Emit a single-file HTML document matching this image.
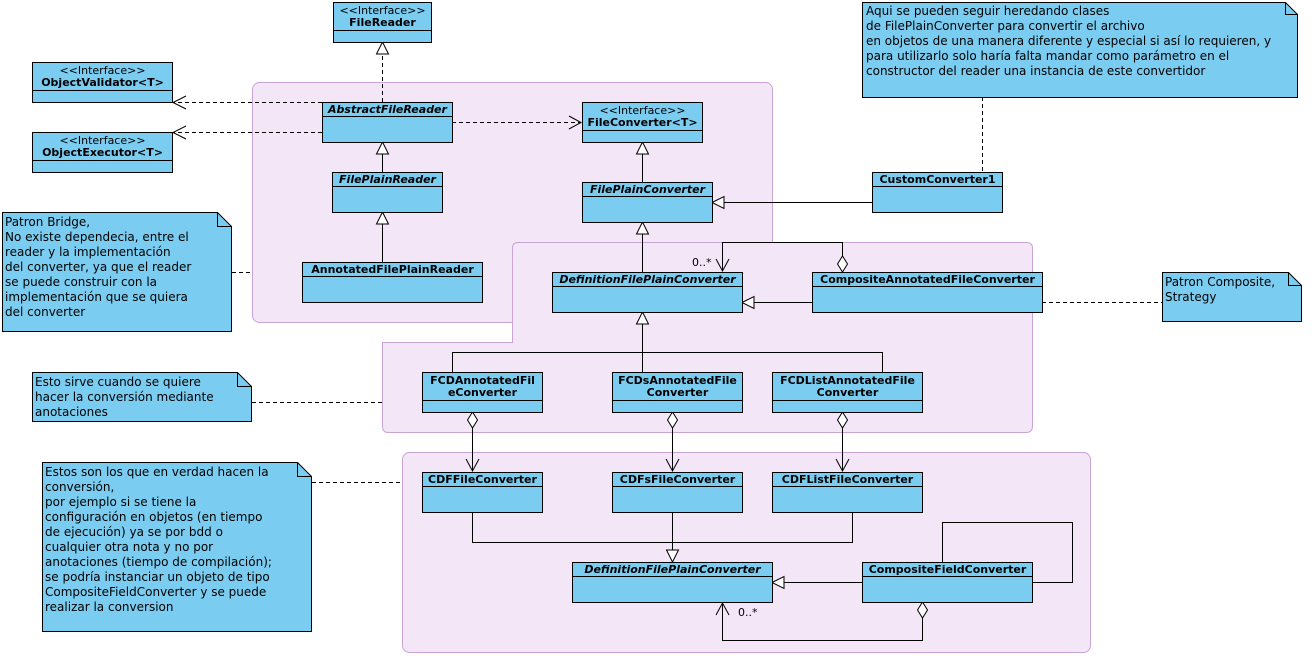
<!DOCTYPE html>
<html><head><meta charset="utf-8"><style>
html,body{margin:0;padding:0;background:#fff;}
svg{display:block;font-family:"DejaVu Sans","Liberation Sans",sans-serif;}
.c{fill:#7acdf1;stroke:#000;stroke-width:1;}
.n{font-size:11px;font-weight:bold;text-anchor:middle;}
.i{font-style:italic;}
.s{font-size:11px;text-anchor:middle;}
.pk{fill:#f3e6f6;stroke:#c9a3d3;stroke-width:1;}
.l{stroke:#000;fill:none;stroke-width:1;}
.d{stroke:#000;fill:none;stroke-dasharray:4,3;}
.t{fill:#fff;stroke:#000;}
.nt{font-size:12px;}
</style></head><body>
<svg width="1316" height="656" viewBox="0 0 1316 656" xmlns="http://www.w3.org/2000/svg">
<!-- packages -->
<rect class="pk" x="252.5" y="82.5" width="520" height="240" rx="7"/>
<path class="pk" d="M512.5,248 Q512.5,242.5 518,242.5 L1026,242.5 Q1032.5,242.5 1032.5,248 L1032.5,426 Q1032.5,432.5 1026,432.5 L388,432.5 Q382.5,432.5 382.5,426 L382.5,342.5 L512.5,342.5 Z"/>
<rect class="pk" x="402.5" y="452.5" width="688" height="200" rx="7"/>

<!-- connectors -->
<path class="d" d="M382.5,102 V44"/><path class="t" d="M382.5,42 l-6,12 h12 z"/>
<path class="d" d="M322,102.5 H174"/><path class="l" d="M186,96 L173,102.5 L186,109"/>
<path class="d" d="M322,132.5 H174"/><path class="l" d="M186,126 L173,132.5 L186,139"/>
<path class="d" d="M452,122.5 H580"/><path class="l" d="M569,116 L581,122.5 L569,129"/>
<path class="l" d="M382.5,172 V154"/><path class="t" d="M382.5,142 l-6,12 h12 z"/>
<path class="l" d="M382.5,262 V224"/><path class="t" d="M382.5,212 l-6,12 h12 z"/>
<path class="l" d="M642.5,182 V154"/><path class="t" d="M642.5,142 l-6,12 h12 z"/>
<path class="l" d="M872,202.5 H724"/><path class="t" d="M712,202.5 l12,-6 v12 z"/>
<path class="l" d="M642.5,272 V234"/><path class="t" d="M642.5,222 l-6,12 h12 z"/>
<path class="l" d="M812,302.5 H754"/><path class="t" d="M742,302.5 l12,-6 v12 z"/>
<path class="l" d="M842.5,256 V242.5 H722.5 V271"/><path class="l" d="M716,259 L722.5,271 L729,259"/>
<path class="t" d="M842.5,272 l-5,-8 l5,-8 l5,8 z"/>
<text x="692" y="266" font-size="11">0..*</text>
<path class="d" d="M1042,302.5 H1162"/>
<path class="l" d="M452.5,372 V352.5 H882.5 V372 M642.5,352.5 V372 M642.5,352.5 V324"/><path class="t" d="M642.5,312 l-6,12 h12 z"/>
<path class="l" d="M472.5,428 V471 M672.5,428 V471 M842.5,428 V471"/>
<path class="t" d="M472.5,412 l-5,8 l5,8 l5,-8 z"/><path class="t" d="M672.5,412 l-5,8 l5,8 l5,-8 z"/><path class="t" d="M842.5,412 l-5,8 l5,8 l5,-8 z"/>
<path class="l" d="M466,459 L472.5,471 L479,459 M666,459 L672.5,471 L679,459 M836,459 L842.5,471 L849,459"/>
<path class="l" d="M472.5,512 V542.5 H852.5 V512 M672.5,512 V550"/><path class="t" d="M672.5,562 l-6,-12 h12 z"/>
<path class="l" d="M862,582.5 H784"/><path class="t" d="M772,582.5 l12,-6 v12 z"/>
<path class="l" d="M942.5,562 V522.5 H1072.5 V582.5 H1032"/>
<path class="l" d="M922.5,618 V640.5 H722.5 V603"/><path class="l" d="M716,615 L722.5,603 L729,615"/>
<path class="t" d="M922.5,602 l-5,8 l5,8 l5,-8 z"/>
<text x="738" y="616" font-size="11">0..*</text>
<path class="d" d="M232,272.5 H252"/>
<path class="d" d="M252,402.5 H382"/>
<path class="d" d="M312,482.5 H402"/>
<path class="d" d="M982.5,97 V172"/>

<!-- classes -->
<g>
<rect class="c" x="333.5" y="2.5" width="98" height="40"/><line class="l" x1="333.5" y1="30.5" x2="431.5" y2="30.5"/>
<text class="s" x="382.5" y="14">&lt;&lt;Interface&gt;&gt;</text><text class="n" x="382.5" y="26">FileReader</text>

<rect class="c" x="32.5" y="62.5" width="140" height="40"/><line class="l" x1="32.5" y1="90.5" x2="172.5" y2="90.5"/>
<text class="s" x="102.5" y="74">&lt;&lt;Interface&gt;&gt;</text><text class="n" x="102.5" y="86">ObjectValidator&lt;T&gt;</text>

<rect class="c" x="32.5" y="132.5" width="140" height="40"/><line class="l" x1="32.5" y1="160.5" x2="172.5" y2="160.5"/>
<text class="s" x="102.5" y="144">&lt;&lt;Interface&gt;&gt;</text><text class="n" x="102.5" y="156">ObjectExecutor&lt;T&gt;</text>

<rect class="c" x="322.5" y="102.5" width="130" height="40"/><line class="l" x1="322.5" y1="116.5" x2="452.5" y2="116.5"/>
<text class="n i" x="387.5" y="113">AbstractFileReader</text>

<rect class="c" x="332.5" y="172.5" width="110" height="40"/><line class="l" x1="332.5" y1="186.5" x2="442.5" y2="186.5"/>
<text class="n i" x="387.5" y="183">FilePlainReader</text>

<rect class="c" x="302.5" y="262.5" width="180" height="40"/><line class="l" x1="302.5" y1="276.5" x2="482.5" y2="276.5"/>
<text class="n" x="392.5" y="273">AnnotatedFilePlainReader</text>

<rect class="c" x="582.5" y="102.5" width="120" height="40"/><line class="l" x1="582.5" y1="130.5" x2="702.5" y2="130.5"/>
<text class="s" x="642.5" y="114">&lt;&lt;Interface&gt;&gt;</text><text class="n" x="642.5" y="126">FileConverter&lt;T&gt;</text>

<rect class="c" x="582.5" y="182.5" width="130" height="40"/><line class="l" x1="582.5" y1="196.5" x2="712.5" y2="196.5"/>
<text class="n i" x="647.5" y="193">FilePlainConverter</text>

<rect class="c" x="872.5" y="172.5" width="130" height="40"/><line class="l" x1="872.5" y1="186.5" x2="1002.5" y2="186.5"/>
<text class="n" x="937.5" y="183">CustomConverter1</text>

<rect class="c" x="552.5" y="272.5" width="190" height="40"/><line class="l" x1="552.5" y1="286.5" x2="742.5" y2="286.5"/>
<text class="n i" x="647.5" y="283">DefinitionFilePlainConverter</text>

<rect class="c" x="812.5" y="272.5" width="230" height="40"/><line class="l" x1="812.5" y1="286.5" x2="1042.5" y2="286.5"/>
<text class="n" x="927.5" y="283">CompositeAnnotatedFileConverter</text>

<rect class="c" x="422.5" y="372.5" width="120" height="40"/><line class="l" x1="422.5" y1="400.5" x2="542.5" y2="400.5"/>
<text class="n" x="482.5" y="384">FCDAnnotatedFil</text><text class="n" x="482.5" y="396">eConverter</text>

<rect class="c" x="612.5" y="372.5" width="130" height="40"/><line class="l" x1="612.5" y1="400.5" x2="742.5" y2="400.5"/>
<text class="n" x="677.5" y="384">FCDsAnnotatedFile</text><text class="n" x="677.5" y="396">Converter</text>

<rect class="c" x="772.5" y="372.5" width="150" height="40"/><line class="l" x1="772.5" y1="400.5" x2="922.5" y2="400.5"/>
<text class="n" x="847.5" y="384">FCDListAnnotatedFile</text><text class="n" x="847.5" y="396">Converter</text>

<rect class="c" x="422.5" y="472.5" width="120" height="40"/><line class="l" x1="422.5" y1="486.5" x2="542.5" y2="486.5"/>
<text class="n" x="482.5" y="483">CDFFileConverter</text>

<rect class="c" x="612.5" y="472.5" width="130" height="40"/><line class="l" x1="612.5" y1="486.5" x2="742.5" y2="486.5"/>
<text class="n" x="677.5" y="483">CDFsFileConverter</text>

<rect class="c" x="772.5" y="472.5" width="150" height="40"/><line class="l" x1="772.5" y1="486.5" x2="922.5" y2="486.5"/>
<text class="n" x="847.5" y="483">CDFListFileConverter</text>

<rect class="c" x="572.5" y="562.5" width="200" height="40"/><line class="l" x1="572.5" y1="576.5" x2="772.5" y2="576.5"/>
<text class="n i" x="672.5" y="573">DefinitionFilePlainConverter</text>

<rect class="c" x="862.5" y="562.5" width="170" height="40"/><line class="l" x1="862.5" y1="576.5" x2="1032.5" y2="576.5"/>
<text class="n" x="947.5" y="573">CompositeFieldConverter</text>
</g>

<!-- notes -->
<path class="c" d="M862.5,2.5 H1285.5 L1297.5,14.5 V97.5 H862.5 Z"/><path class="l" d="M1285.5,2.5 V14.5 H1297.5"/>
<text class="nt" x="866" y="15">Aqui se pueden seguir heredando clases</text>
<text class="nt" x="866" y="30">de FilePlainConverter para convertir el archivo</text>
<text class="nt" x="866" y="45">en objetos de una manera diferente y especial si así lo requieren, y</text>
<text class="nt" x="866" y="60">para utilizarlo solo haría falta mandar como parámetro en el</text>
<text class="nt" x="866" y="75">constructor del reader una instancia de este convertidor</text>

<path class="c" d="M2.5,212.5 H217.5 L231.5,226.5 V331.5 H2.5 Z"/><path class="l" d="M217.5,212.5 V226.5 H231.5"/>
<text class="nt" x="5" y="226">Patron Bridge,</text>
<text class="nt" x="5" y="241">No existe dependecia, entre el</text>
<text class="nt" x="5" y="256">reader y la implementación</text>
<text class="nt" x="5" y="271">del converter, ya que el reader</text>
<text class="nt" x="5" y="286">se puede construir con la</text>
<text class="nt" x="5" y="301">implementación que se quiera</text>
<text class="nt" x="5" y="316">del converter</text>

<path class="c" d="M1162.5,272.5 H1288.5 L1301.5,285.5 V321.5 H1162.5 Z"/><path class="l" d="M1288.5,272.5 V285.5 H1301.5"/>
<text class="nt" x="1165" y="286">Patron Composite,</text>
<text class="nt" x="1165" y="301">Strategy</text>

<path class="c" d="M32.5,372.5 H237.5 L251.5,386.5 V421.5 H32.5 Z"/><path class="l" d="M237.5,372.5 V386.5 H251.5"/>
<text class="nt" x="35" y="386">Esto sirve cuando se quiere</text>
<text class="nt" x="35" y="401">hacer la conversión mediante</text>
<text class="nt" x="35" y="416">anotaciones</text>

<path class="c" d="M42.5,462.5 H297.5 L311.5,476.5 V631.5 H42.5 Z"/><path class="l" d="M297.5,462.5 V476.5 H311.5"/>
<text class="nt" x="45" y="476">Estos son los que en verdad hacen la</text>
<text class="nt" x="45" y="491">conversión,</text>
<text class="nt" x="45" y="506">por ejemplo si se tiene la</text>
<text class="nt" x="45" y="521">configuración en objetos (en tiempo</text>
<text class="nt" x="45" y="536">de ejecución) ya se por bdd o</text>
<text class="nt" x="45" y="551">cualquier otra nota y no por</text>
<text class="nt" x="45" y="566">anotaciones (tiempo de compilación);</text>
<text class="nt" x="45" y="581">se podría instanciar un objeto de tipo</text>
<text class="nt" x="45" y="596">CompositeFieldConverter y se puede</text>
<text class="nt" x="45" y="611">realizar la conversion</text>
</svg>
</body></html>
